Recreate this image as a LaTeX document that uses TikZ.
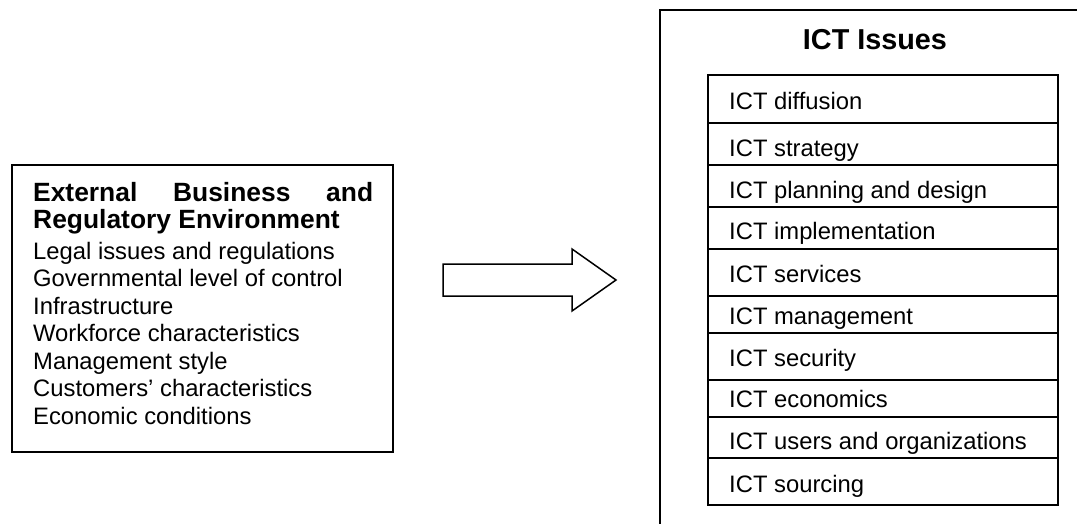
\documentclass[tikz,border=0pt]{standalone}
\usepackage{fontspec}
\setmainfont{Liberation Sans}
\begin{document}
\begin{tikzpicture}[x=1pt,y=-1pt,
  box/.style={draw, line width=1.3pt, inner sep=0pt, outer sep=0pt},
  rowbox/.style={draw, line width=1.2pt, inner sep=0pt, outer sep=0pt,
    anchor=north west, minimum width=350pt},
  bodytext/.style={anchor=base west, inner sep=0pt,
    font=\fontsize{23.8}{27.5}\selectfont},
  headtext/.style={anchor=base west, inner sep=0pt,
    font=\bfseries\fontsize{26.4}{27}\selectfont},
  titletext/.style={anchor=base, inner sep=0pt,
    font=\bfseries\fontsize{28.8}{32}\selectfont},
  blockarrow/.style={draw, line width=1.5pt, line join=miter}]
\useasboundingbox (0,0) rectangle (1077,524);
\clip (0,0) rectangle (1077,524);

% environment box
\node[box, anchor=north west, minimum width=381pt, minimum height=287pt] (env) at (12,165) {};
\node[headtext] (envh1) at (33,201) {\makebox[340pt][s]{External\hfill Business\hfill and}};
\node[headtext] (envh2) at (33,228) {Regulatory Environment};
\foreach \t [count=\i] in {Legal issues and regulations, Governmental level of control,
    Infrastructure, Workforce characteristics, Management style,
    Customers’ characteristics, Economic conditions}
  \node[bodytext] (env\i) at (33,{259+27.5*(\i-1)}) {\t};

% block arrow
\draw[blockarrow] (443,264) -- (572,264) -- (572,249) -- (616,280)
  -- (572,311) -- (572,296) -- (443,296) -- cycle;

% ICT issues box
\node[box, anchor=north west, minimum width=440pt, minimum height=560pt] (ict) at (660,10) {};
\node[titletext] (icttitle) at (875,50) {ICT Issues};
\foreach \top/\h/\base/\t [count=\i] in {
    75/48/110/ICT diffusion,
    123/42/157/ICT strategy,
    165/42/199/ICT planning and design,
    207/42/240/ICT implementation,
    249/47/282/ICT services,
    296/37/324/ICT management,
    333/47/366/ICT security,
    380/37/407/ICT economics,
    417/41/449/ICT users and organizations,
    458/47/492/ICT sourcing}
{
  \node[rowbox, minimum height=\h pt] (row\i) at (708,\top) {};
  \node[bodytext] (item\i) at (729,\base) {\t};
}
\end{tikzpicture}
\end{document}
